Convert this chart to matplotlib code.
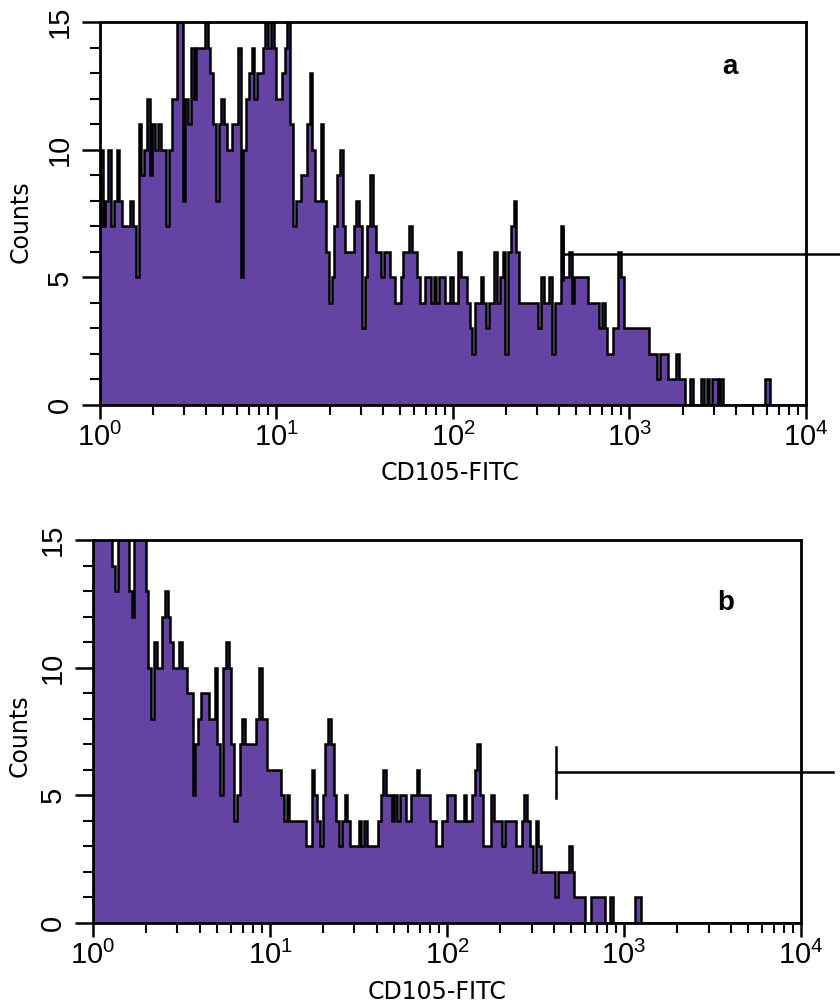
import numpy as np
import matplotlib
matplotlib.use('Agg')
import matplotlib.pyplot as plt
from matplotlib import font_manager
from matplotlib.ticker import LogLocator, NullFormatter, FuncFormatter, MultipleLocator

# CD105-FITC histograms, 256 log channels over 10^0..10^4
counts_a = [10, 7, 8, 10, 7, 8, 10, 8, 7, 7,
            7, 8, 7, 5, 11, 9, 10, 12, 9, 11,
            10, 11, 10, 10, 7, 10, 12, 12, 15, 15,
            8, 12, 11, 14, 12, 14, 14, 14, 15, 14,
            13, 11, 8, 11, 12, 11, 10, 10, 11, 11,
            14, 5, 10, 12, 13, 14, 12, 13, 13, 14,
            15, 14, 15, 14, 12, 12, 13, 14, 15, 11,
            7, 8, 8, 9, 9, 11, 13, 10, 8, 8,
            11, 8, 6, 4, 5, 7, 9, 10, 7, 6,
            6, 6, 7, 8, 7, 3, 5, 7, 9, 7,
            6, 6, 5, 6, 6, 5, 5, 4, 4, 5,
            6, 6, 7, 6, 6, 5, 4, 4, 5, 5,
            4, 5, 4, 5, 5, 4, 4, 5, 4, 4,
            6, 5, 5, 4, 3, 2, 4, 4, 5, 4,
            3, 4, 4, 6, 4, 5, 6, 2, 6, 7,
            8, 6, 4, 4, 4, 4, 4, 4, 4, 3,
            5, 4, 4, 5, 2, 4, 4, 7, 5, 5,
            6, 4, 5, 5, 5, 5, 5, 4, 4, 4,
            4, 3, 4, 3, 2, 2, 3, 3, 6, 5,
            3, 3, 3, 3, 3, 3, 3, 3, 3, 2,
            2, 2, 1, 2, 2, 2, 1, 1, 1, 2,
            1, 1, 0, 0, 1, 0, 0, 0, 1, 0,
            1, 0, 1, 1, 0, 1, 0, 0, 0, 0,
            0, 0, 0, 0, 0, 0, 0, 0, 0, 0,
            0, 1, 1, 0, 0, 0, 0, 0, 0, 0,
            0, 0, 0, 0, 0, 0]

counts_b = [16, 16, 16, 16, 16, 16, 16, 14, 13, 16,
            16, 16, 16, 13, 12, 16, 16, 16, 16, 13,
            10, 8, 11, 10, 10, 12, 13, 12, 11, 10,
            10, 11, 10, 10, 9, 9, 5, 7, 8, 9,
            9, 9, 8, 8, 10, 7, 5, 10, 11, 10,
            7, 4, 5, 7, 8, 7, 7, 7, 7, 8,
            10, 8, 8, 6, 6, 6, 6, 6, 5, 4,
            5, 4, 4, 4, 4, 4, 4, 3, 3, 6,
            5, 4, 3, 5, 7, 8, 7, 5, 4, 3,
            4, 5, 4, 3, 3, 3, 4, 3, 4, 3,
            3, 3, 3, 4, 5, 6, 5, 5, 4, 5,
            4, 5, 5, 4, 4, 5, 5, 6, 5, 5,
            5, 5, 4, 4, 3, 3, 4, 4, 5, 5,
            5, 4, 4, 4, 5, 4, 4, 5, 6, 7,
            5, 3, 3, 3, 5, 4, 4, 4, 3, 4,
            4, 4, 4, 3, 3, 4, 5, 4, 3, 2,
            4, 3, 2, 2, 2, 2, 2, 1, 2, 2,
            2, 2, 3, 2, 1, 1, 1, 1, 0, 0,
            1, 1, 1, 1, 1, 0, 0, 1, 0, 0,
            0, 0, 0, 0, 0, 0, 1, 1, 0, 0,
            0, 0, 0, 0, 0, 0, 0, 0, 0, 0,
            0, 0, 0, 0, 0, 0, 0, 0, 0, 0,
            0, 0, 0, 0, 0, 0, 0, 0, 0, 0,
            0, 0, 0, 0, 0, 0, 0, 0, 0, 0,
            0, 0, 0, 0, 0, 0, 0, 0, 0, 0,
            0, 0, 0, 0, 0, 0]

# marker gates: start, end, level
gate_a = [420, 10**4.19, 5.9]
gate_b = [413, 10**4.18, 5.9]

y_ticks = [0, 5, 10, 15]
x_decades = [0, 1, 2, 3, 4]

names = {f.name for f in font_manager.fontManager.ttflist}
tick_font = 'Liberation Sans Narrow' if 'Liberation Sans Narrow' in names else 'Liberation Sans'
plt.rcParams['mathtext.fontset'] = 'custom'
plt.rcParams['mathtext.rm'] = tick_font
plt.rcParams['font.family'] = ['DejaVu Sans']

fill_col = '#6443a2'
edges = np.logspace(0, 4, 257)


def draw_panel(ax, counts, letter, letter_xy, gate, xlab_xy, ylab_xy):
    ax.stairs(counts, edges, fill=True, color=fill_col, lw=0)
    ax.stairs(counts, edges, color='black', lw=1.8, baseline=0)
    ax.set_xscale('log')
    ax.set_xlim(1, 1e4)
    ax.set_ylim(0, 15)

    # gate marker
    lo, hi, lev = gate
    ax.plot([lo, hi], [lev, lev], color='black', lw=1.8, clip_on=False)
    ax.plot([lo, lo], [lev - 1, lev + 1], color='black', lw=1.8, clip_on=False)

    ax.set_yticks(y_ticks)
    ax.yaxis.set_minor_locator(MultipleLocator(1))
    ax.xaxis.set_major_locator(LogLocator(base=10, numticks=10))
    ax.xaxis.set_minor_locator(LogLocator(base=10, subs=range(2, 10), numticks=10))
    ax.xaxis.set_minor_formatter(NullFormatter())
    ax.xaxis.set_major_formatter(FuncFormatter(lambda v, p: r'$\mathregular{10^{%d}}$' % round(np.log10(v))))
    ax.set_xticks([10.0 ** d for d in x_decades])

    ax.tick_params(axis='y', which='major', length=13, width=1.8, pad=6, labelsize=21, labelrotation=90)
    ax.tick_params(axis='y', which='minor', length=7, width=1.5)
    ax.tick_params(axis='x', which='major', length=10, width=1.8, pad=3, labelsize=21)
    ax.tick_params(axis='x', which='minor', length=7, width=1.5)
    for lab in ax.get_xticklabels() + ax.get_yticklabels():
        lab.set_fontfamily(tick_font)
    for lab in ax.get_yticklabels():
        lab.set_va('center')

    for sp in ax.spines.values():
        sp.set_linewidth(2)

    ax.set_xlabel('CD105-FITC', fontsize=17)
    ax.set_ylabel('Counts', fontsize=17)
    ax.xaxis.set_label_coords(*xlab_xy)
    ax.yaxis.set_label_coords(*ylab_xy)
    ax.text(letter_xy[0], letter_xy[1], letter, transform=ax.transAxes, fontsize=20,
            fontweight='bold', family='Liberation Sans', ha='center', va='center')


fig = plt.figure(figsize=(8.4, 10.05), dpi=100)
ax_a = fig.add_axes([0.119, 0.597, 0.8405, 0.381])
ax_b = fig.add_axes([0.1107, 0.0816, 0.843, 0.381])

draw_panel(ax_a, counts_a, 'a', (0.892, 0.882), gate_a, (0.496, -0.146), (-0.096, 0.48))
draw_panel(ax_b, counts_b, 'b', (0.893, 0.836), gate_b, (0.486, -0.15), (-0.086, 0.49))

fig.savefig('out.png', dpi=100)
